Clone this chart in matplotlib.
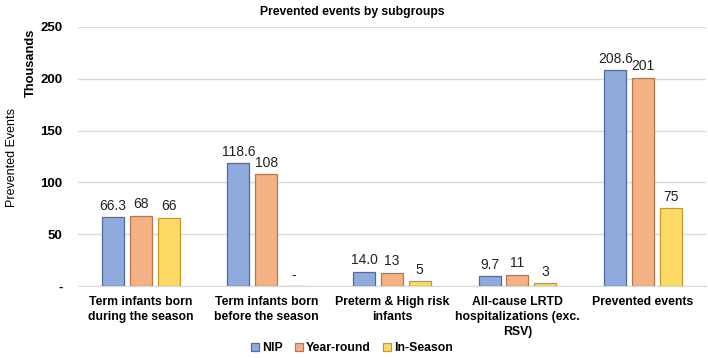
import matplotlib
matplotlib.use("Agg")
import matplotlib.pyplot as plt
import numpy as np

plt.rcParams["font.family"] = ["Liberation Sans", "DejaVu Sans"]

categories = ["Term infants born\nduring the season",
              "Term infants born\nbefore the season",
              "Preterm & High risk\ninfants",
              "All-cause LRTD\nhospitalizations (exc.\nRSV)",
              "Prevented events"]
series = ["NIP", "Year-round", "In-Season"]
nip = [66.3, 118.6, 14.0, 9.7, 208.6]
year_round = [68, 108, 13, 11, 201]
in_season = [66, 0, 5, 3, 75]
nip_labels = ["66.3", "118.6", "14.0", "9.7", "208.6"]
yr_labels = ["68", "108", "13", "11", "201"]
is_labels = ["66", "-", "5", "3", "75"]
yticks = [0, 50, 100, 150, 200, 250]
ytick_labels = ["-", "50", "100", "150", "200", "250"]

fills = ["#8FAADC", "#F4B183", "#FFD966"]
edges = ["#4E6C9F", "#B5774B", "#C09A2A"]

fig = plt.figure(figsize=(7.08, 3.58), dpi=100)
ax = fig.add_axes([0.110, 0.201, 0.887, 0.724])

x = np.arange(len(categories))
w = 0.175
step = 0.222
for i, (vals, labs) in enumerate(zip([nip, year_round, in_season],
                                     [nip_labels, yr_labels, is_labels])):
    pos = x + (i - 1) * step
    bars = ax.bar(pos, vals, width=w, color=fills[i], edgecolor=edges[i],
                  linewidth=0.9, label=series[i], zorder=3)
    ax.bar_label(bars, labels=labs, padding=3, fontsize=10, color="#222222")

ax.set_xlim(-0.5, 4.5)
ax.set_ylim(0, 250)
ax.set_yticks(yticks)
ax.set_yticklabels(ytick_labels, fontweight="bold", fontsize=9.5)
ax.set_xticks(x)
ax.set_xticklabels(categories, fontweight="bold", fontsize=8.8, linespacing=1.32)
ax.tick_params(axis="x", length=0, pad=7)
ax.tick_params(axis="y", length=0, pad=11)
ax.grid(axis="y", color="#D9D9D9", linewidth=1, zorder=0)
for s in ["top", "right", "left"]:
    ax.spines[s].set_visible(False)
ax.spines["bottom"].set_color("#D9D9D9")

fig.text(0.497, 0.982, "Prevented events by subgroups", fontsize=8.7,
         fontweight="bold", ha="center", va="top")
fig.text(0.017, 0.56, "Prevented Events", rotation=90, va="center", ha="center", fontsize=9)
fig.text(0.043, 0.824, "Thousands", rotation=90, va="center", ha="center",
         fontsize=9.3, fontweight="bold")

fig.legend(loc="center", bbox_to_anchor=(0.497, 0.027), ncol=3, frameon=False,
           prop={"weight": "bold", "size": 8.8}, handlelength=0.65, handleheight=0.65,
           handletextpad=0.25, columnspacing=1.0, borderpad=0.1)

fig.savefig("out.png", dpi=100)
